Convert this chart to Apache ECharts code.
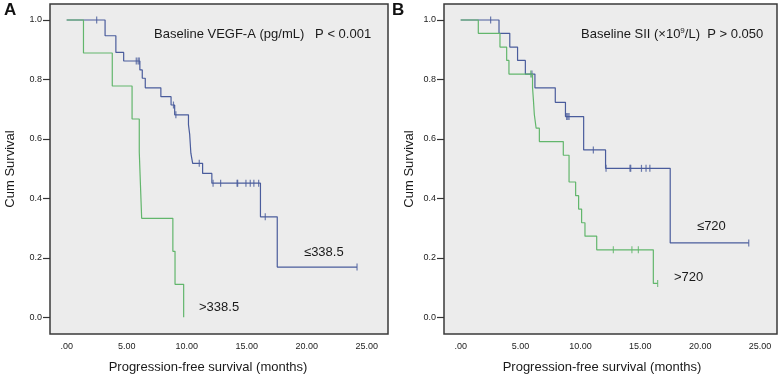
<!DOCTYPE html>
<html>
<head>
<meta charset="utf-8">
<script src="https://cdn.jsdelivr.net/npm/echarts@6/dist/echarts.min.js"></script>
<style>
html,body{margin:0;padding:0;background:#fff;}
#chart{width:780px;height:377px;}
</style>
</head>
<body>
<div id="chart"></div>
<script>
// ---- Data ----
const xTickValues = [0, 5, 10, 15, 20, 25];
const yTickValues = [0, 0.2, 0.4, 0.6, 0.8, 1.0];

// Panel A: Baseline VEGF-A
const aLowTime = [0, 3.2, 4.1, 4.75, 6.1, 6.3, 6.55, 7.85, 8.7, 9.0, 10.15, 10.25, 10.3, 10.35, 10.5, 11.33, 12.1, 16.15, 17.55, 24.2];
const aLowSurv = [1, 0.947, 0.891, 0.862, 0.832, 0.804, 0.772, 0.742, 0.714, 0.681, 0.648, 0.616, 0.584, 0.552, 0.518, 0.484, 0.451, 0.338, 0.169, 0.169];
const aLowCensTime = [2.5, 5.8, 5.95, 6.05, 8.9, 9.1, 11.05, 12.2, 12.83, 14.2, 14.25, 14.94, 15.3, 15.6, 16.0, 16.55, 24.2];
const aLowCensSurv = [1, 0.862, 0.862, 0.862, 0.714, 0.681, 0.518, 0.451, 0.451, 0.451, 0.451, 0.451, 0.451, 0.451, 0.451, 0.338, 0.169];

const aHighTime = [0, 1.4, 3.8, 5.45, 6.05, 6.15, 6.25, 8.85, 9.03, 9.75];
const aHighSurv = [1, 0.889, 0.778, 0.667, 0.556, 0.444, 0.333, 0.222, 0.111, 0];

// Panel B: Baseline SII
const bLowTime = [0, 3.2, 4.1, 4.75, 5.4, 6.2, 7.9, 8.75, 10.27, 12.1, 17.5, 24.06];
const bLowSurv = [1, 0.955, 0.909, 0.864, 0.818, 0.772, 0.723, 0.675, 0.563, 0.501, 0.25, 0.25];
const bLowCensTime = [2.5, 5.95, 8.85, 8.95, 9.05, 11.08, 12.14, 14.14, 14.2, 15.1, 15.48, 15.8, 24.06];
const bLowCensSurv = [1, 0.818, 0.675, 0.675, 0.675, 0.563, 0.501, 0.501, 0.501, 0.501, 0.501, 0.501, 0.25];

const bHighTime = [0, 1.47, 3.28, 3.84, 4.03, 6.0, 6.08, 6.15, 6.3, 6.57, 8.57, 9.05, 9.6, 9.85, 10.1, 10.38, 11.36, 16.09, 16.45];
const bHighSurv = [1, 0.955, 0.909, 0.864, 0.818, 0.773, 0.727, 0.682, 0.636, 0.591, 0.545, 0.455, 0.409, 0.364, 0.318, 0.273, 0.227, 0.114, 0.114];
const bHighCensTime = [5.85, 12.75, 14.3, 14.84, 16.45];
const bHighCensSurv = [0.818, 0.227, 0.227, 0.227, 0.114];

// ---- Styling ----
const BLUE = '#4a5c9c';
const GREEN = '#62b66c';
const FONT = '"Liberation Sans", Arial, sans-serif';

function pairs(t, s) { return t.map((v, i) => [v, s[i]]); }

function stepSeries(t, s, color, gi) {
  return {
    type: 'line', step: 'end', xAxisIndex: gi, yAxisIndex: gi,
    data: pairs(t, s), symbol: 'none', silent: true,
    lineStyle: { color: color, width: 1.2 }
  };
}
function censSeries(t, s, color, gi) {
  return {
    type: 'scatter', xAxisIndex: gi, yAxisIndex: gi,
    data: pairs(t, s), symbol: 'rect', symbolSize: [1.2, 7], silent: true,
    itemStyle: { color: color }
  };
}

function xAx(gi, min, max) {
  return {
    type: 'value', gridIndex: gi, min: min, max: max,
    axisLine: { show: false, onZero: false },
    splitLine: { show: false },
    axisTick: { show: false },
    axisLabel: {
      customValues: xTickValues, margin: 8,
      fontFamily: FONT, fontSize: 9, color: '#222',
      formatter: v => (v === 0 ? '.00' : v.toFixed(2))
    }
  };
}
function yAx(gi) {
  return {
    type: 'value', gridIndex: gi, min: -0.0562, max: 1.0538,
    axisLine: { show: false, onZero: false },
    splitLine: { show: false },
    axisTick: { show: true, customValues: yTickValues, length: 7, lineStyle: { color: '#333', width: 1.2 } },
    axisLabel: {
      customValues: yTickValues, margin: 8,
      fontFamily: FONT, fontSize: 9, color: '#222',
      formatter: v => v.toFixed(1)
    }
  };
}

const chart = echarts.init(document.getElementById('chart'), null, { renderer: 'canvas' });
chart.setOption({
  animation: false,
  backgroundColor: '#ffffff',
  grid: [
    { left: 50, top: 4, width: 338, height: 330, show: true, backgroundColor: '#ececec', borderColor: '#3a3a3a', borderWidth: 1.5 },
    { left: 444, top: 4, width: 333, height: 330, show: true, backgroundColor: '#ececec', borderColor: '#3a3a3a', borderWidth: 1.5 }
  ],
  xAxis: [xAx(0, -1.39, 26.78), xAx(1, -1.395, 26.42)],
  yAxis: [yAx(0), yAx(1)],
  series: [
    stepSeries(aLowTime, aLowSurv, BLUE, 0),
    censSeries(aLowCensTime, aLowCensSurv, BLUE, 0),
    stepSeries(aHighTime, aHighSurv, GREEN, 0),
    stepSeries(bLowTime, bLowSurv, BLUE, 1),
    censSeries(bLowCensTime, bLowCensSurv, BLUE, 1),
    stepSeries(bHighTime, bHighSurv, GREEN, 1),
    censSeries(bHighCensTime, bHighCensSurv, GREEN, 1)
  ],
  graphic: [
    { type: 'text', x: 4, y: 10, style: { text: 'A', font: 'bold 17px ' + FONT, fill: '#111', textVerticalAlign: 'middle' } },
    { type: 'text', x: 392, y: 10, style: { text: 'B', font: 'bold 17px ' + FONT, fill: '#111', textVerticalAlign: 'middle' } },
    { type: 'text', x: 10, y: 169, rotation: Math.PI / 2, style: { text: 'Cum Survival', font: '13px ' + FONT, fill: '#1a1a1a', textAlign: 'center', textVerticalAlign: 'middle' } },
    { type: 'text', x: 409, y: 169, rotation: Math.PI / 2, style: { text: 'Cum Survival', font: '13px ' + FONT, fill: '#1a1a1a', textAlign: 'center', textVerticalAlign: 'middle' } },
    { type: 'text', x: 208, y: 367, style: { text: 'Progression-free survival (months)', font: '13px ' + FONT, fill: '#1a1a1a', textAlign: 'center', textVerticalAlign: 'middle' } },
    { type: 'text', x: 602, y: 367, style: { text: 'Progression-free survival (months)', font: '13px ' + FONT, fill: '#1a1a1a', textAlign: 'center', textVerticalAlign: 'middle' } },
    { type: 'text', x: 154, y: 34, style: { text: 'Baseline VEGF-A (pg/mL)   P < 0.001', font: '13px ' + FONT, fill: '#1a1a1a', textVerticalAlign: 'middle' } },
    { type: 'text', x: 581, y: 34, style: {
        text: '{t|Baseline SII (×10}{s|9}{t|/L)  P > 0.050}',
        rich: { t: { font: '13px ' + FONT, fill: '#1a1a1a' }, s: { font: '8px ' + FONT, fill: '#1a1a1a', padding: [0, 0, 6, 0] } },
        textVerticalAlign: 'middle' } },
    { type: 'text', x: 304, y: 252, style: { text: '≤338.5', font: '13px ' + FONT, fill: '#1a1a1a', textVerticalAlign: 'middle' } },
    { type: 'text', x: 199, y: 307, style: { text: '>338.5', font: '13px ' + FONT, fill: '#1a1a1a', textVerticalAlign: 'middle' } },
    { type: 'text', x: 697, y: 226, style: { text: '≤720', font: '13px ' + FONT, fill: '#1a1a1a', textVerticalAlign: 'middle' } },
    { type: 'text', x: 674, y: 277, style: { text: '>720', font: '13px ' + FONT, fill: '#1a1a1a', textVerticalAlign: 'middle' } }
  ]
});
</script>
</body>
</html>
